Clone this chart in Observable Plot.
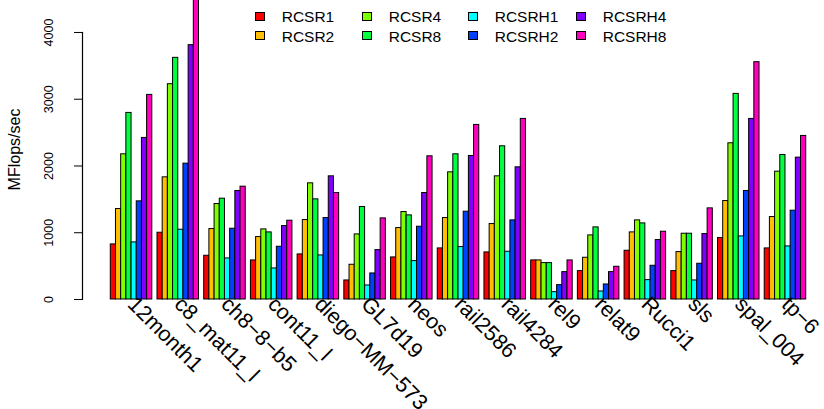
<!DOCTYPE html>
<html><head><meta charset="utf-8">
<script src="https://cdn.jsdelivr.net/npm/d3@7"></script>
<script src="https://cdn.jsdelivr.net/npm/@observablehq/plot@0.6"></script>
<style>
html,body{margin:0;padding:0;background:#fff;}
#wrap{position:relative;width:824px;height:409px;overflow:hidden;font-family:"Liberation Sans",Arial,Helvetica,sans-serif;}
#legend{position:absolute;left:0;top:0;width:824px;height:50px;}
.lt{position:absolute;font-size:15.5px;line-height:15.5px;color:#000;white-space:nowrap;}
.sw{position:absolute;width:10px;height:9px;border:1px solid #000;box-sizing:border-box;}
</style></head><body><div id="wrap"></div>
<script>
const categories = ["12month1","c8_mat11_l","ch8\u22128\u2212b5","cont11_l","diego\u2212MM\u2212573","GL7d19","neos","rail2586","rail4284","rel9","relat9","Rucci1","sls","spal_004","tp\u22126"];
const series = ["RCSR1","RCSR2","RCSR4","RCSR8","RCSRH1","RCSRH2","RCSRH4","RCSRH8"];
const colors = ["#FF0000","#FFBF00","#80FF00","#00FF40","#00FFFF","#0040FF","#8000FF","#FF00BF"];
const RCSR1  = [825,1000,655,585,675,285,630,765,705,585,425,730,425,920,765];
const RCSR2  = [1355,1830,1055,935,1190,520,1070,1220,1130,585,625,1005,710,1475,1235];
const RCSR4  = [2175,3225,1430,1050,1740,975,1310,1905,1845,545,960,1185,985,2340,1915];
const RCSR8  = [2795,3620,1510,1005,1500,1385,1260,2175,2295,545,1080,1140,985,3080,2165];
const RCSRH1 = [855,1045,615,465,660,210,575,785,715,110,120,290,285,945,795];
const RCSRH2 = [1470,2035,1060,790,1220,390,1090,1315,1185,215,225,505,535,1625,1330];
const RCSRH4 = [2420,3810,1625,1100,1845,740,1595,2150,1980,410,410,890,980,2705,2125];
const RCSRH8 = [3065,4750,1690,1180,1595,1215,2145,2615,2705,585,490,1015,1365,3555,2450];
const yTicks = [0,1000,2000,3000,4000];
const yLabel = "MFlops/sec";

const values = [RCSR1,RCSR2,RCSR4,RCSR8,RCSRH1,RCSRH2,RCSRH4,RCSRH8];
// R barplot layout: each group = 1 space + 8 bars (unit width)
const perGroup = series.length + 1;
const table = [];
categories.forEach((c, gi) => {
  series.forEach((s, si) => {
    table.push({category: c, series: s, value: values[si][gi], pos: gi * perGroup + 1 + si});
  });
});
const catTable = categories.map((c, gi) => ({category: c, center: gi * perGroup + 1 + series.length / 2}));
const xDomain = [-4.45, 138.52];
const axisPts = [yTicks[0], yTicks[yTicks.length - 1]].map(v => ({x: xDomain[0], y: v}));

const chart = Plot.plot({
  width: 824, height: 409,
  marginTop: 0, marginLeft: 82, marginRight: 0, marginBottom: 98,
  x: {domain: xDomain, axis: null},
  y: {domain: [-180, 4479], axis: null},
  color: {domain: series, range: colors},
  style: {fontFamily: '"Liberation Sans",Arial,Helvetica,sans-serif', background: "white", color: "black", overflow: "visible"},
  marks: [
    Plot.rectY(table, {x1: "pos", x2: d => d.pos + 1, y1: 0, y2: "value", fill: "series", stroke: "black", strokeWidth: 1}),
    Plot.lineY(axisPts, {x: "x", y: "y", stroke: "black", strokeWidth: 1.2}),
    Plot.axisY(yTicks, {anchor: "left", label: null, tickFormat: d => String(d), tickSize: 8, tickRotate: -90, tickPadding: 22, fontSize: 12.5, stroke: "black", fill: "black"}),
    Plot.text([yLabel], {frameAnchor: "left", rotate: -90, dx: -62.5, dy: -6.5, fontSize: 16, lineAnchor: "bottom", textAnchor: "middle", fill: "black"}),
    Plot.text(catTable, {x: "center", y: 0, text: "category", rotate: 45, textAnchor: "start", lineAnchor: "bottom", dx: -5, dy: 6, fontSize: 21.5, fill: "black"})
  ]
});
const wrap = document.getElementById("wrap");
wrap.appendChild(chart);

// legend (R style, column-major, 4 columns x 2 rows)
const legend = document.createElement("div");
legend.id = "legend";
const colX = [255, 362, 468, 576];
const rowBase = [22.3, 41.7];
series.forEach((s, i) => {
  const col = Math.floor(i / 2), row = i % 2;
  const sw = document.createElement("div");
  sw.className = "sw";
  sw.style.left = colX[col] + "px";
  sw.style.top = (rowBase[row] - 10.5) + "px";
  sw.style.background = colors[i];
  const t = document.createElement("div");
  t.className = "lt";
  t.textContent = s;
  t.style.left = (colX[col] + 26.7) + "px";
  t.style.top = (rowBase[row] - 13.1) + "px";
  legend.appendChild(sw);
  legend.appendChild(t);
});
wrap.appendChild(legend);
</script>
</body></html>
